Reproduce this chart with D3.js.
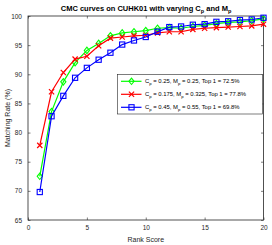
<!DOCTYPE html>
<html><head><meta charset="utf-8">
<script src="https://cdn.jsdelivr.net/npm/d3@7"></script>
<style>body{margin:0;background:#fff}svg{display:block}text{font-family:"Liberation Sans",Arial,sans-serif}</style>
</head><body><div id="c"></div>
<script>
const ranks = [1,2,3,4,5,6,7,8,9,10,11,12,13,14,15,16,17,18,19,20];
const greenVals = [72.5,83.6,88.7,92.0,94.1,95.3,96.6,97.1,97.3,97.5,97.9,98.0,97.9,98.2,98.4,98.7,98.9,99.0,99.2,99.5];
const redVals   = [77.8,87.0,90.3,92.6,93.1,94.9,96.2,96.4,96.6,96.7,97.1,97.3,97.3,97.7,97.9,98.0,98.1,98.2,98.3,98.6];
const blueVals  = [69.8,82.8,86.3,89.4,91.1,92.5,93.7,95.1,95.8,96.4,97.3,98.1,98.2,98.5,98.6,99.0,99.1,99.3,99.4,99.7];
const xTicks = [0,5,10,15,20];
const yTicks = [65,70,75,80,85,90,95,100];
const seriesNames = [
  {cp:"0.25", mp:"0.25", top:"72.5%"},
  {cp:"0.175", mp:"0.325", top:"77.8%"},
  {cp:"0.45", mp:"0.55", top:"69.8%"}
];

const W=272,H=245;
const L=28,R=263.5,T=16,B=220;
const svg=d3.select("#c").append("svg").attr("width",W).attr("height",H);
const x=d3.scaleLinear().domain([0,20]).range([L,R]);
const y=d3.scaleLinear().domain([65,100]).range([B,T]);

svg.append("rect").attr("x",L).attr("y",T).attr("width",R-L).attr("height",B-T)
  .attr("fill","#fff").attr("stroke","#262626").attr("stroke-width",0.8);

const axStyle=g=>{g.select(".domain").remove();g.selectAll("line").attr("stroke","#262626").attr("stroke-width",0.6);
  g.selectAll("text").attr("fill","#262626").style("font-size","6.5px");};
svg.append("g").attr("transform",`translate(0,${B})`)
  .call(d3.axisBottom(x).tickValues(xTicks).tickSize(-2.5).tickPadding(5)).call(axStyle);
svg.append("g").attr("transform",`translate(0,${T})`)
  .call(d3.axisTop(x).tickValues(xTicks).tickSize(-2.5).tickFormat("")).call(axStyle);
svg.append("g").attr("transform",`translate(${L},0)`)
  .call(d3.axisLeft(y).tickValues(yTicks).tickSize(-2.5).tickPadding(6)).call(axStyle);
svg.append("g").attr("transform",`translate(${R},0)`)
  .call(d3.axisRight(y).tickValues(yTicks).tickSize(-2.5).tickFormat("")).call(axStyle);

const series=[
  {vals:greenVals,color:"#00ff00",marker:"diamond"},
  {vals:redVals,color:"#ff0000",marker:"x"},
  {vals:blueVals,color:"#0000ff",marker:"square"}
];
function drawMarker(g,type,cx,cy,color){
  if(type==="diamond"){
    g.append("path").attr("d",`M${cx},${cy-3.2}L${cx+2.6},${cy}L${cx},${cy+3.2}L${cx-2.6},${cy}Z`)
      .attr("fill","none").attr("stroke",color).attr("stroke-width",1.1);
  }else if(type==="x"){
    g.append("path").attr("d",`M${cx-2.6},${cy-2.6}L${cx+2.6},${cy+2.6}M${cx-2.6},${cy+2.6}L${cx+2.6},${cy-2.6}`)
      .attr("stroke",color).attr("stroke-width",1.2);
  }else{
    g.append("rect").attr("x",cx-2.6).attr("y",cy-2.6).attr("width",5.2).attr("height",5.2)
      .attr("fill","none").attr("stroke",color).attr("stroke-width",1.1);
  }
}
const line=d3.line().x((d,i)=>x(ranks[i])).y(d=>y(d));
const clipG=svg.append("g");
series.forEach(s=>{
  clipG.append("path").datum(s.vals).attr("d",line).attr("fill","none")
    .attr("stroke",s.color).attr("stroke-width",1.2);
  s.vals.forEach((v,i)=>drawMarker(clipG,s.marker,x(ranks[i]),y(v),s.color));
});

const title=svg.append("text").attr("x",146).attr("y",11).attr("text-anchor","middle")
  .style("font-size","7.5px").style("font-weight","bold").attr("fill","#000");
title.append("tspan").text("CMC curves on CUHK01 with varying C");
title.append("tspan").attr("dy",2).style("font-size","5.5px").text("p");
title.append("tspan").attr("dy",-2).text(" and M");
title.append("tspan").attr("dy",2).style("font-size","5.5px").text("p");

svg.append("text").attr("x",(L+R)/2).attr("y",242).attr("text-anchor","middle")
  .style("font-size","7px").attr("fill","#262626").text("Rank Score");
svg.append("text").attr("transform",`translate(10,${(T+B)/2}) rotate(-90)`).attr("text-anchor","middle")
  .style("font-size","7px").attr("fill","#262626").text("Matching Rate (%)");

const lg=svg.append("g");
const lx=117.5,ly=74.5,lw=145,lh=39.5;
lg.append("rect").attr("x",lx).attr("y",ly).attr("width",lw).attr("height",lh)
  .attr("fill","#fff").attr("stroke","#262626").attr("stroke-width",0.6);
series.forEach((s,i)=>{
  const cy=ly+6.8+i*13;
  lg.append("line").attr("x1",lx+3.5).attr("x2",lx+24).attr("y1",cy).attr("y2",cy)
    .attr("stroke",s.color).attr("stroke-width",1.2);
  drawMarker(lg,s.marker,lx+14,cy,s.color);
  const n=seriesNames[i];
  const t=lg.append("text").attr("x",lx+27.5).attr("y",cy+2.1).style("font-size","5.9px").attr("fill","#000");
  t.append("tspan").text("C");
  t.append("tspan").attr("dy",1.5).style("font-size","4.2px").text("p");
  t.append("tspan").attr("dy",-1.5).text(` = ${n.cp},  M`);
  t.append("tspan").attr("dy",1.5).style("font-size","4.2px").text("p");
  t.append("tspan").attr("dy",-1.5).text(` = ${n.mp},  Top 1 = ${n.top}`);
});
</script></body></html>
